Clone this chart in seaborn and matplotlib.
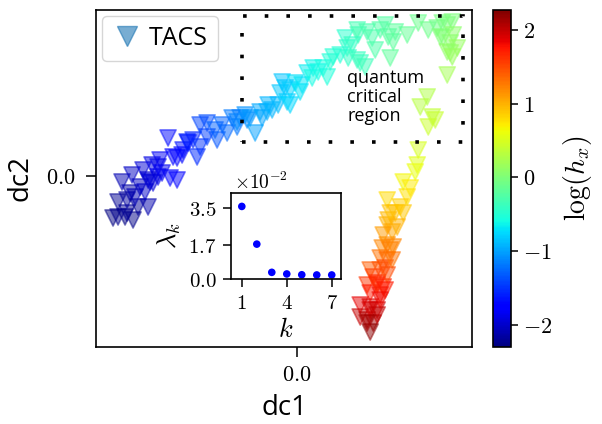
import numpy as np
import pandas as pd
import matplotlib
import matplotlib.pyplot as plt
import seaborn as sns
from matplotlib.patches import Rectangle
from matplotlib.lines import Line2D
from matplotlib.ticker import FixedLocator, FuncFormatter

# datos
dc1 = [-1.84, -1.72, -1.64, -1.79, -1.59, -1.67, -1.49, -1.75, -1.57, -1.65,
       -1.47, -1.54, -1.45, -1.39, -1.37, -1.27, -1.20, -1.20, -1.29, -1.14,
       -1.10, -1.04, -1.00, -0.97, -0.90, -0.97, -0.90, -0.80, -0.82, -0.70,
       -0.60, -0.57, -0.50, -0.60, -0.52, -0.47, -0.42, -0.37, -0.30, -0.25,
       -0.19, -0.15, -0.17, -0.10, -0.07, -0.07, -0.02, 0.05, 0.10, 0.16,
       0.15, 0.26, 0.30, 0.33, 0.36, 0.48, 0.50, 0.51, 0.60, 0.63,
       0.68, 0.61, 0.60, 0.70, 0.78, 0.83, 0.88, 0.91, 0.96, 0.93,
       1.10, 1.21, 1.40, 1.45, 1.50, 1.55, 1.46, 1.53, 1.56, 1.53,
       1.60, 1.50, 1.30, 1.23, 1.35, 1.38, 1.31, 1.21, 1.20, 1.18,
       1.06, 1.13, 1.10, 0.90, 1.03, 0.98, 0.91, 0.90, 0.95, 0.86,
       0.90, 0.85, 0.93, 0.83, 0.90, 0.73, 0.83, 0.88, 0.76, 0.70,
       0.80, 0.86, 0.73, 0.83, 0.63, 0.73, 0.80, 0.63, 0.70, 0.76, 0.73,
       -1.79, -1.70, -1.70, -1.62, -1.52, -1.49, -1.39, -1.35, -1.44, -1.24,
       -1.15, -1.09, -0.75, -0.65, -0.35, -0.29, -0.12, 0.03, 0.21, 0.43,
       0.55, 0.75, 0.98, 1.31, 1.43, 1.50, 1.55, 0.93, 1.06, 1.00,
       0.96, 0.95, 0.90, 0.80, 0.88, 0.83, 0.73, 0.80, 0.70]
dc2 = [-0.42, -0.41, -0.44, -0.26, -0.31, -0.17, -0.31, -0.06, -0.11, 0.01,
       -0.06, 0.06, 0.11, -0.01, 0.16, -0.02, -0.04, 0.18, 0.38, 0.26,
       0.34, 0.36, 0.19, 0.29, 0.39, 0.51, 0.53, 0.36, 0.46, 0.43,
       0.49, 0.58, 0.56, 0.54, 0.61, 0.58, 0.43, 0.64, 0.64, 0.66,
       0.71, 0.94, 0.83, 0.74, 0.86, 0.71, 0.93, 0.91, 1.03, 1.08,
       0.98, 1.08, 0.99, 1.14, 1.19, 1.38, 1.28, 1.18, 1.16, 1.13,
       1.09, 1.41, 1.46, 1.44, 1.26, 1.46, 1.51, 1.39, 1.34, 1.18,
       1.41, 1.53, 1.48, 1.53, 1.51, 1.54, 1.38, 1.33, 1.41, 1.23,
       1.28, 1.01, 0.79, 0.69, 0.59, 0.56, 0.49, 0.26, 0.11, 0.04,
       -0.06, -0.12, -0.21, -0.24, -0.31, -0.37, -0.44, -0.49, -0.56, -0.59,
       -0.69, -0.72, -0.74, -0.82, -0.84, -0.94, -0.94, -0.92, -1.01, -1.09,
       -1.07, -1.11, -1.17, -1.19, -1.29, -1.31, -1.34, -1.41, -1.44, -1.47, -1.56,
       -0.41, -0.37, -0.24, -0.21, -0.16, -0.04, 0.09, 0.03, -0.07, 0.19,
       0.21, 0.33, 0.51, 0.58, 0.58, 0.71, 0.88, 0.84, 1.04, 1.21,
       1.31, 1.38, 1.44, 1.46, 1.39, 1.24, 1.19, -0.37, -0.37, -0.51,
       -0.71, -0.84, -0.99, -1.09, -1.14, -1.24, -1.34, -1.39, -1.47]
log_hx = [-2.30, -2.27, -2.25, -2.22, -2.20, -2.15, -2.12, -2.10, -2.05, -2.02,
          -1.98, -1.95, -1.90, -1.87, -1.83, -1.80, -1.77, -1.72, -1.68, -1.65,
          -1.60, -1.57, -1.55, -1.50, -1.45, -1.42, -1.38, -1.35, -1.30, -1.25,
          -1.20, -1.15, -1.12, -1.10, -1.07, -1.04, -1.00, -0.97, -0.94, -0.91,
          -0.88, -0.85, -0.83, -0.80, -0.77, -0.75, -0.72, -0.70, -0.66, -0.63,
          -0.60, -0.57, -0.54, -0.52, -0.50, -0.47, -0.45, -0.43, -0.40, -0.38,
          -0.36, -0.34, -0.32, -0.30, -0.28, -0.26, -0.24, -0.22, -0.20, -0.18,
          -0.15, -0.12, -0.08, -0.05, -0.02, 0.00, 0.03, 0.06, 0.08, 0.11,
          0.14, 0.20, 0.28, 0.32, 0.36, 0.40, 0.43, 0.50, 0.55, 0.60,
          0.65, 0.70, 0.76, 0.80, 0.85, 0.90, 0.95, 1.00, 1.05, 1.10,
          1.15, 1.20, 1.25, 1.30, 1.35, 1.40, 1.45, 1.50, 1.55, 1.60,
          1.65, 1.70, 1.75, 1.80, 1.85, 1.90, 1.95, 2.00, 2.05, 2.10, 2.20,
          -2.24, -2.21, -2.16, -2.08, -2.00, -1.97, -1.88, -1.85, -1.93, -1.75,
          -1.70, -1.62, -1.28, -1.18, -0.98, -0.92, -0.82, -0.70, -0.60, -0.50,
          -0.42, -0.30, -0.20, -0.10, 0.02, 0.10, 0.15, 0.92, 0.88, 1.00,
          1.20, 1.30, 1.50, 1.65, 1.72, 1.82, 1.92, 2.00, 2.12]

# autovalores del inset (en unidades de 10^-2)
k_vals = [1, 2, 3, 4, 5, 6, 7]
lambda_k = [3.60, 1.73, 0.33, 0.25, 0.21, 0.20, 0.20]

hx_min, hx_max = -2.3, 2.27
region = dict(x0=-0.55, x1=1.66, y0=0.34, y1=1.60)

sns.set_style("ticks")
plt.rcParams['font.family'] = ['Open Sans', 'DejaVu Sans']
plt.rcParams['mathtext.fontset'] = 'cm'
for key in ['text.color', 'axes.labelcolor', 'xtick.color', 'ytick.color', 'axes.edgecolor']:
    plt.rcParams[key] = 'black'

df = pd.DataFrame({'dc1': dc1, 'dc2': dc2, 'log_hx': log_hx})
norm = matplotlib.colors.Normalize(vmin=hx_min, vmax=hx_max)
jet = plt.get_cmap('jet')

fig = plt.figure(figsize=(6.02, 4.24), dpi=100)
ax = fig.add_axes([0.1595, 0.1816, 0.625, 0.795])
cax = fig.add_axes([0.819, 0.1816, 0.030, 0.795])
axin = fig.add_axes([0.383, 0.342, 0.183, 0.203])

sns.scatterplot(data=df, x='dc1', y='dc2', hue='log_hx', palette=jet, hue_norm=norm,
                marker='v', s=135, alpha=0.5, edgecolor='face', linewidth=1.2,
                legend=False, ax=ax)
ax.set_xlim(-2.01, 1.75)
ax.set_ylim(-1.71, 1.66)
ax.xaxis.set_major_locator(FixedLocator([0.0]))
ax.yaxis.set_major_locator(FixedLocator([0.0]))
mfmt = FuncFormatter(lambda v, p: r'$%.1f$' % v)
ax.xaxis.set_major_formatter(mfmt)
ax.yaxis.set_major_formatter(mfmt)
ax.tick_params(labelsize=16, length=7, width=1.1, pad=6)
ax.tick_params(axis='y', pad=8)
ax.set_xlabel('dc1', fontsize=20, labelpad=6)
ax.set_ylabel('dc2', fontsize=20, labelpad=8)
for s in ax.spines.values():
    s.set_linewidth(1.2)
    s.set_visible(True)

# region critica
ax.add_patch(Rectangle((region['x0'], region['y0']), region['x1'] - region['x0'],
                       region['y1'] - region['y0'], fill=False, color='k',
                       lw=2.6, linestyle=(0, (1, 5.0))))
ax.text(0.50, 0.79, 'quantum\ncritical\nregion', fontsize=13, ha='left', va='center',
        linespacing=1.1)

handle = Line2D([], [], marker='v', linestyle='none', markersize=14,
                color='#1f77b4', alpha=0.6)
ax.legend([handle], ['TACS'], loc='upper left', fontsize=18, handletextpad=0.25,
          borderpad=0.4, handlelength=1.2, borderaxespad=0.25)

# colorbar
sm = matplotlib.cm.ScalarMappable(norm=norm, cmap=jet)
cb = fig.colorbar(sm, cax=cax)
cb.set_ticks([-2, -1, 0, 1, 2])
cb.set_ticklabels([r'$-2$', r'$-1$', r'$0$', r'$1$', r'$2$'])
cb.ax.tick_params(labelsize=16, length=5, width=1.1)
cb.outline.set_linewidth(1.2)
cb.set_label(r'$\log(h_x)$', fontsize=20, labelpad=6)

# inset
sns.scatterplot(x=k_vals, y=lambda_k, color='blue', s=30, edgecolor='none', ax=axin)
axin.set_xlim(0.25, 7.6)
axin.set_ylim(0, 4.27)
axin.set_xticks([1, 4, 7])
axin.set_xticklabels([r'$1$', r'$4$', r'$7$'])
axin.set_yticks([0.0, 1.7, 3.5])
axin.set_yticklabels([r'$0.0$', r'$1.7$', r'$3.5$'])
axin.tick_params(labelsize=15, length=6, width=1.1, pad=4)
axin.set_xlabel(r'$k$', fontsize=19, labelpad=3)
axin.set_ylabel(r'$\lambda_k$', fontsize=19, labelpad=4)
axin.text(0.03, 1.0, r'$\times10^{-2}$', transform=axin.transAxes, fontsize=14,
          ha='left', va='bottom')
for s in axin.spines.values():
    s.set_linewidth(1.2)
    s.set_visible(True)

fig.savefig('out.png', dpi=100)
